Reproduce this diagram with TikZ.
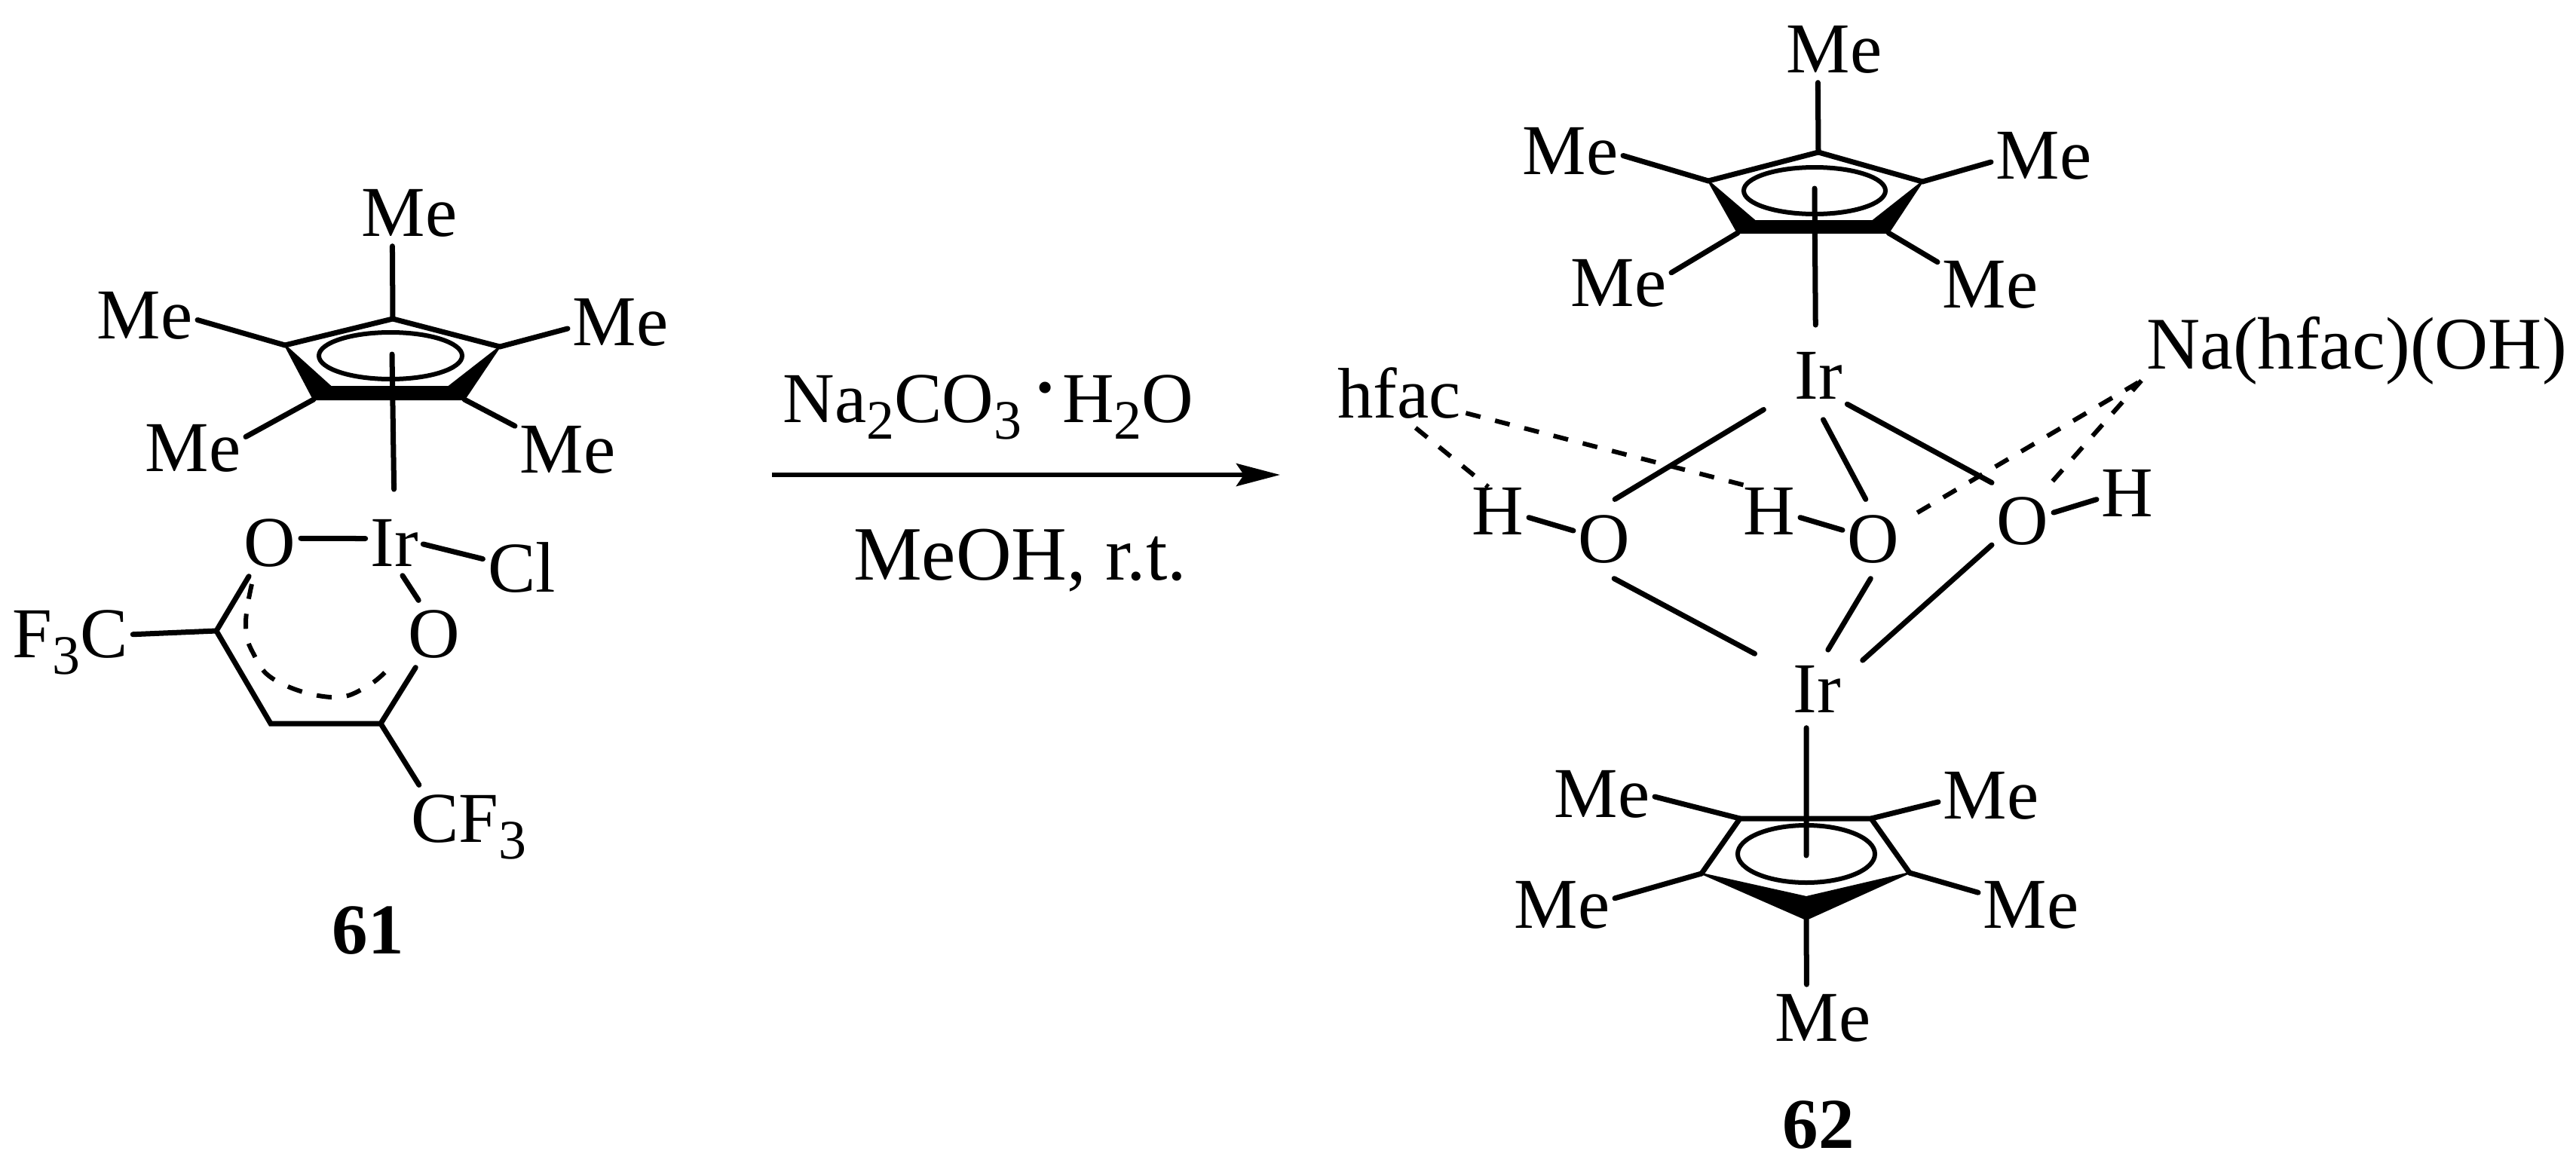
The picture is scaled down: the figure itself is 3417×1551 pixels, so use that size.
\documentclass[tikz,border=0pt]{standalone}
\usepackage{fontspec}
\setmainfont{Liberation Serif}
\usetikzlibrary{arrows.meta,positioning}
\newcommand{\Sb}[1]{\raisebox{-0.22cm}{\fontsize{21}{23}\selectfont #1}}
\begin{document}
\begin{tikzpicture}[x=0.01cm, y=-0.01cm]
    \tikzset{AtomStyle/.style = {anchor=base, inner xsep=0.06cm, inner ysep=0.12cm,
        font=\fontsize{27}{30}\selectfont},
      CoreStyle/.style = {AtomStyle, inner ysep=0.2cm},
      HydroStyle/.style = {AtomStyle, inner ysep=0cm},
      BondStyle/.style = {line width=0.07cm, line cap=round},
      DashStyle/.style = {line width=0.06cm, dash pattern=on 0.2cm off 0.2cm},
      RingStyle/.style = {line width=0.06cm},
      WedgeStyle/.style = {fill=black, draw=black, line width=0.02cm, line join=miter}}
    \useasboundingbox (0,0) rectangle (3417,1551);

    % 61
    \coordinate (At) at (521,423);
    \coordinate (Ar) at (663,460);
    \coordinate (Abr) at (616,530);
    \coordinate (Abri) at (595,513);
    \coordinate (Abl) at (416,530);
    \coordinate (Abli) at (439,513);
    \coordinate (Al) at (378,458);
    \coordinate (Ac) at (520,470);
    \coordinate (Cl1) at (287,837);
    \coordinate (Cm1) at (359,960);
    \coordinate (Cr1) at (505,960);
    \node[AtomStyle] (MeAt) at (543,313) {Me};
    \node[AtomStyle] (MeAl) at (192,449) {Me};
    \node[AtomStyle] (MeAr) at (823,458) {Me};
    \node[AtomStyle] (MeAbl) at (256,625) {Me};
    \node[AtomStyle] (MeAbr) at (753,627) {Me};
    \node[AtomStyle] (IrA) at (523,751) {Ir};
    \node[AtomStyle] (OAl) at (358,751) {O};
    \node[AtomStyle] (OAr) at (576,872) {O};
    \node[AtomStyle] (ClA) at (692,785) {Cl};
    \node[AtomStyle] (CFl) at (93,872) {F\Sb{3}C};
    \node[AtomStyle] (CFr) at (622,1117) {CF\Sb{3}};
    \node[AtomStyle, font=\fontsize{27}{30}\selectfont\bfseries] (NumA) at (488,1265) {61};
    \draw[BondStyle] (Al) -- (At) -- (Ar);
    \fill[WedgeStyle] (Al) -- (Abli) -- (Abri) -- (Ar) -- (Abr) -- (Abl) -- cycle;
    \draw[RingStyle] (518,472) ellipse (95 and 31);
    \draw[BondStyle] (At) -- (MeAt.-117);
    \draw[BondStyle] (Al) -- (MeAl.-5);
    \draw[BondStyle] (Ar) -- (MeAr.-173);
    \draw[BondStyle] (Abl) -- (MeAbl.12);
    \draw[BondStyle] (Abr) -- (MeAbr.156);
    \draw[BondStyle, shorten >=0.27cm] (Ac) -- (IrA.north);
    \draw[BondStyle] (OAl.8) -- (IrA.172);
    \draw[BondStyle] (IrA.-3) -- (ClA.168);
    \draw[BondStyle] (IrA.-76) -- (OAr.115);
    \draw[BondStyle] (OAl.-122) -- (Cl1) -- (Cm1) -- (Cr1) -- (OAr.-119);
    \draw[BondStyle] (CFl.7) -- (Cl1);
    \draw[BondStyle] (Cr1) -- (CFr.140);
    \draw[DashStyle] plot[smooth, tension=0.7] coordinates {(334,775) (326,827) (335,865) (366,903) (439,925) (488,910) (523,879)};

    % reaction arrow
    \coordinate (ArrS) at (1024,630);
    \coordinate (ArrE) at (1698,630);
    \draw[line width=0.06cm, -{Stealth[length=0.58cm, width=0.3cm, inset=0.1cm]}] (ArrS) -- (ArrE);
    \node[AtomStyle] (Reag) at (1311,560) {Na\Sb{2}CO\Sb{3}\hspace{0.2cm}\raisebox{0.24cm}{\fontsize{18}{20}\selectfont\textbullet}\hspace{0.12cm}H\Sb{2}O};
    \node[AtomStyle, font=\fontsize{29}{32}\selectfont] (Cond) at (1353,769) {MeOH, r.t.};

    % 62, upper ring
    \coordinate (Bt) at (2412,202);
    \coordinate (Br) at (2550,241);
    \coordinate (Bbr) at (2505,309);
    \coordinate (Bbri) at (2484,293);
    \coordinate (Bbl) at (2305,309);
    \coordinate (Bbli) at (2328,293);
    \coordinate (Bl) at (2266,240);
    \coordinate (Bc) at (2407,250);
    \node[AtomStyle] (MeBt) at (2433,96) {Me};
    \node[AtomStyle] (MeBl) at (2083,231) {Me};
    \node[AtomStyle] (MeBr) at (2711,237) {Me};
    \node[AtomStyle] (MeBbl) at (2147,406) {Me};
    \node[AtomStyle] (MeBbr) at (2640,408) {Me};
    \draw[BondStyle] (Bl) -- (Bt) -- (Br);
    \fill[WedgeStyle] (Bl) -- (Bbli) -- (Bbri) -- (Br) -- (Bbr) -- (Bbl) -- cycle;
    \draw[RingStyle] (2407,253) ellipse (94 and 31);
    \draw[BondStyle] (Bt) -- (MeBt.-116);
    \draw[BondStyle] (Bl) -- (MeBl.-5);
    \draw[BondStyle] (Br) -- (MeBr.-173);
    \draw[BondStyle] (Bbl) -- (MeBbl.11);
    \draw[BondStyle] (Bbr) -- (MeBbr.157);

    % 62, core
    \node[CoreStyle] (IrB) at (2412,529) {Ir};
    \node[CoreStyle] (IrC) at (2410,945) {Ir};
    \node[CoreStyle] (OBl) at (2128,746) {O};
    \node[CoreStyle] (OBm) at (2485,746) {O};
    \node[CoreStyle] (OBr) at (2683,722) {O};
    \node[HydroStyle] (HBl) at (1987,709) {H};
    \node[HydroStyle] (HBm) at (2347,709) {H};
    \node[HydroStyle] (HBr) at (2822,685) {H};
    \node[AtomStyle] (Hfac) at (1856,554) {hfac};
    \node[AtomStyle, font=\fontsize{28}{31}\selectfont] (NaB) at (3126,489) {Na(hfac)(OH)};
    \draw[BondStyle, shorten >=0.15cm] (Bc) -- (IrB.94);
    \draw[BondStyle, shorten <=0.4cm] (IrB.-147) -- (OBl.75);
    \draw[BondStyle, shorten <=0.08cm] (IrB.-87) -- (OBm.101);
    \draw[BondStyle] (IrB.-45) -- (OBr.129);
    \draw[BondStyle, shorten >=0.5cm] (OBl.-76) -- (IrC.149);
    \draw[BondStyle] (OBm.-94) -- (IrC.74);
    \draw[BondStyle, shorten >=0.3cm] (OBr.-142) -- (IrC.25);
    \draw[BondStyle] (HBl.-12) -- (OBl.165);
    \draw[BondStyle] (HBm.-12) -- (OBm.164);
    \draw[BondStyle] (OBr.15) -- (HBr.192);
    \draw[DashStyle] (Hfac.-65) -- (HBl.112);
    \draw[DashStyle] (Hfac.-17) -- (HBm.127);
    \draw[DashStyle, shorten <=0.2cm] (OBm.31) -- (NaB.-172);
    \draw[DashStyle] (OBr.53) -- (NaB.-172);

    % 62, lower ring
    \coordinate (Ctl) at (2308,1086);
    \coordinate (Ctr) at (2482,1086);
    \coordinate (Cr) at (2533,1158);
    \coordinate (Cl) at (2257,1159);
    \coordinate (Cb) at (2396,1220);
    \coordinate (Cbi) at (2396,1190);
    \coordinate (Cc) at (2396,1135);
    \node[AtomStyle] (MeCtl) at (2125,1084) {Me};
    \node[AtomStyle] (MeCtr) at (2641,1086) {Me};
    \node[AtomStyle] (MeCl) at (2072,1231) {Me};
    \node[AtomStyle] (MeCr) at (2694,1231) {Me};
    \node[AtomStyle] (MeCb) at (2418,1381) {Me};
    \node[AtomStyle, font=\fontsize{27}{30}\selectfont\bfseries] (NumB) at (2412,1523) {62};
    \draw[BondStyle] (Cl) -- (Ctl) -- (Ctr) -- (Cr);
    \fill[WedgeStyle] (Cl) -- (Cbi) -- (Cr) -- (Cb) -- cycle;
    \draw[RingStyle] (2396,1133) ellipse (91 and 38);
    \draw[BondStyle] (IrC.-105) -- (Cc);
    \draw[BondStyle] (Ctl) -- (MeCtl.-3);
    \draw[BondStyle] (Ctr) -- (MeCtr.-173);
    \draw[BondStyle] (Cl) -- (MeCl.7);
    \draw[BondStyle] (Cr) -- (MeCr.167);
    \draw[BondStyle] (Cb) -- (MeCb.116);
\end{tikzpicture}
\end{document}
